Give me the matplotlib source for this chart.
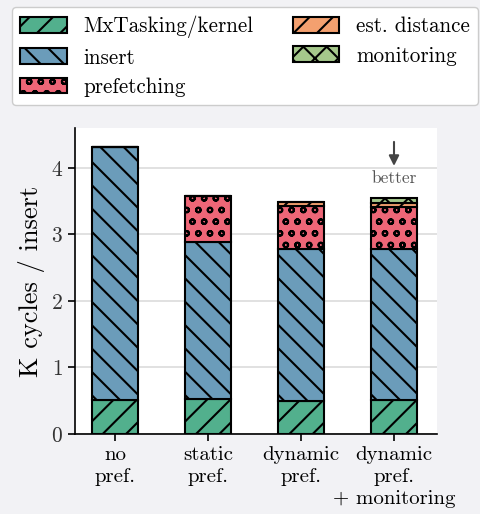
import numpy as np
import matplotlib
matplotlib.use("Agg")
import matplotlib.pyplot as plt

DPI = 70
S = 100 / DPI  # sizes below are tuned in "100 dpi" points

plt.rcParams['font.family'] = 'cmr10'
plt.rcParams['mathtext.fontset'] = 'cm'
plt.rcParams['axes.unicode_minus'] = False
plt.rcParams['axes.formatter.use_mathtext'] = True
plt.rcParams['hatch.linewidth'] = 1.5 * S

# data (K cycles per insert)
configs = ["no\npref.", "static\npref.", "dynamic\npref.", "dynamic\npref.\n+ monitoring"]
kernel = [0.51, 0.52, 0.49, 0.51]
insert = [3.81, 2.36, 2.29, 2.27]
prefetching = [0.0, 0.69, 0.65, 0.63]
est_distance = [0.0, 0.0, 0.05, 0.06]
monitoring = [0.0, 0.0, 0.0, 0.07]

series = [
    ("MxTasking/kernel", kernel, "#52b08d", "/"),
    ("insert", insert, "#6b9cba", "\\"),
    ("prefetching", prefetching, "#ee6677", "o"),
    ("est. distance", est_distance, "#f4a06f", "/"),
    ("monitoring", monitoring, "#a5c88b", "x"),
]

fig = plt.figure(figsize=(480 / DPI, 514 / DPI), dpi=DPI, facecolor="#f2f2f5")
ax = fig.add_axes([0.156, 0.156, 0.754, 0.595])
ax.set_facecolor("white")

x = np.arange(len(configs))
bottom = np.zeros(len(configs))
handles = []
for name, vals, color, hatch in series:
    vals = np.array(vals)
    b = ax.bar(x, vals, 0.5, bottom=bottom, color=color, edgecolor="black",
               linewidth=1.5 * S, hatch=hatch, label=name, zorder=2)
    handles.append(b)
    bottom += vals

# faint grid drawn over the bars
ax.yaxis.grid(True, color="#999999", alpha=0.35, linewidth=1.2 * S, zorder=3)
ax.set_xlim(-0.43, 3.46)
ax.set_ylim(0, 4.6)
ax.set_yticks([0, 1, 2, 3, 4])
ax.set_xticks(x)
ax.set_xticklabels(configs, fontsize=15 * S, linespacing=1.3)
ax.tick_params(axis='y', labelsize=15.5 * S, length=5 * S, width=1.2 * S,
               pad=3.5 * S, labelcolor="#333333")
ax.tick_params(axis='x', length=5 * S, width=1.2 * S, pad=3.5 * S)
ax.set_ylabel("K cycles / insert", fontsize=19 * S, labelpad=4 * S)
for s in ["top", "right"]:
    ax.spines[s].set_visible(False)
for s in ["left", "bottom"]:
    ax.spines[s].set_linewidth(1.2 * S)

ax.annotate("", xy=(3, 4.0), xytext=(3, 4.42),
            arrowprops=dict(arrowstyle="-|>", color="#444444", lw=1.5 * S,
                            mutation_scale=15 * S))
ax.text(3, 3.85, "better", ha="center", va="center", fontsize=12.5 * S, color="#555555")

leg = fig.legend(handles=handles, loc="upper left", bbox_to_anchor=(0.025, 0.986),
                 borderaxespad=0, ncol=2, fontsize=15.2 * S, handlelength=2.2,
                 handleheight=0.75, handletextpad=0.8, columnspacing=1.85,
                 labelspacing=0.47, borderpad=0.4, fancybox=True, framealpha=1,
                 edgecolor="#cccccc")
leg.get_frame().set_linewidth(1.0 * S)

fig.savefig("out.png", dpi=DPI, facecolor=fig.get_facecolor())
